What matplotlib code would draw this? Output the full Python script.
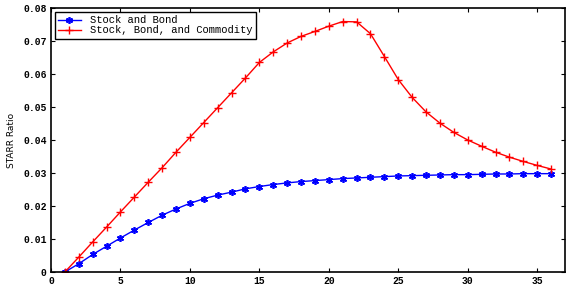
import numpy as np
import matplotlib.pyplot as plt

# Horizon (x) and STARR ratios
horizon = list(range(1, 37))
stock_bond = [0.0, 0.0025, 0.0053, 0.0078, 0.0103, 0.0127, 0.0150, 0.0172, 0.0191,
              0.0208, 0.0222, 0.0233, 0.0242, 0.0252, 0.0259, 0.0265, 0.0270, 0.0274,
              0.0277, 0.0280, 0.0283, 0.0285, 0.0287, 0.0289, 0.0291, 0.0292, 0.0293,
              0.0294, 0.0295, 0.0295, 0.0296, 0.0297, 0.0297, 0.0298, 0.0298, 0.0298]
stock_bond_comm = [0.0, 0.0045, 0.0091, 0.0136, 0.0182, 0.0227, 0.0272, 0.0316, 0.0363,
                   0.0408, 0.0453, 0.0498, 0.0543, 0.0588, 0.0635, 0.0667, 0.0694, 0.0714,
                   0.0729, 0.0745, 0.0759, 0.0758, 0.0722, 0.0653, 0.0583, 0.0529, 0.0485,
                   0.0451, 0.0423, 0.0400, 0.0381, 0.0363, 0.0348, 0.0335, 0.0323, 0.0312]

plt.rcParams['font.family'] = 'Liberation Mono'
plt.rcParams['font.weight'] = 'bold'

fig = plt.figure(figsize=(5.73, 2.86), dpi=100)
ax = fig.add_axes([0.089, 0.049, 0.897, 0.923])

# asterisk marker like matlab '*'
ax.plot(horizon, stock_bond, color='blue', marker=(6, 2, 0), markersize=5,
        markeredgewidth=1.2, linewidth=1, label='Stock and Bond')
ax.plot(horizon, stock_bond_comm, color='red', marker='+', markersize=6,
        markeredgewidth=1, linewidth=1, label='Stock, Bond, and Commodity')

ax.set_xlim(0, 37)
ax.set_ylim(0, 0.08)
ax.set_xticks(np.arange(0, 36, 5))
ax.set_yticks(np.arange(0, 0.081, 0.01))
ax.set_yticklabels(['0', '0.01', '0.02', '0.03', '0.04', '0.05', '0.06', '0.07', '0.08'])
ax.tick_params(direction='in', top=True, right=True, labelsize=7, length=3, pad=3)
for s in ax.spines.values():
    s.set_linewidth(1.2)

ax.set_ylabel('STARR Ratio', fontsize=6.5, labelpad=5, fontweight='normal',
              family='DejaVu Sans')

leg = ax.legend(loc='upper left',
                prop={'size': 7.6, 'family': 'Liberation Mono', 'weight': 'normal'},
                fancybox=False, framealpha=1, edgecolor='black', borderpad=0.3,
                handlelength=2.1, handletextpad=0.9, labelspacing=0.0,
                borderaxespad=0.4)
leg.get_frame().set_linewidth(1.0)

fig.savefig('out.png', dpi=100)
